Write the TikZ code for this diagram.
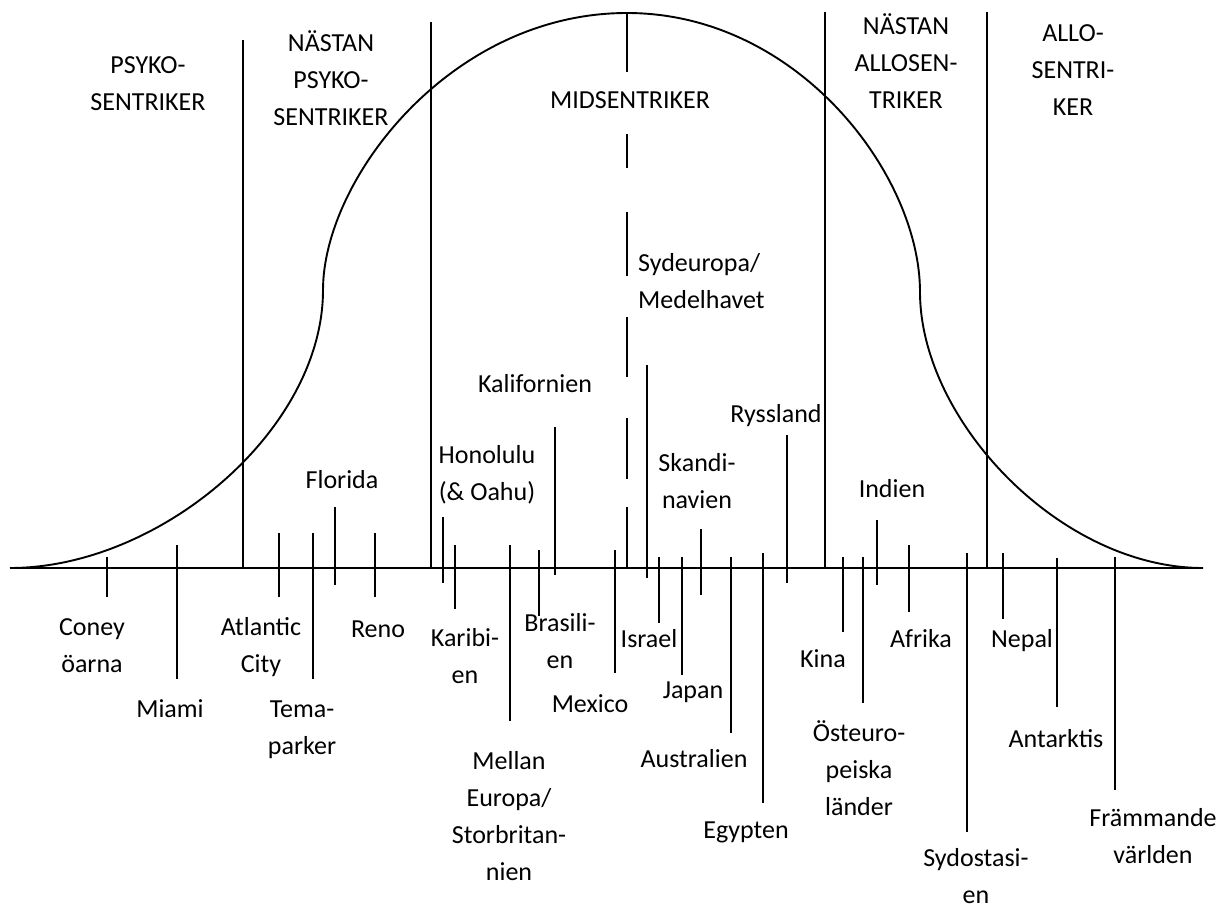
\documentclass[tikz,border=0pt]{standalone}
\usepackage{fontspec}
\setmainfont{Carlito}
\begin{document}
\begin{tikzpicture}[x=1pt,y=-1pt,
  lbl/.style={anchor=base,align=center,inner sep=0pt,font=\fontsize{26}{37}\selectfont},
  tick/.style={line width=1.7pt},
  divider/.style={line width=1.7pt},
  curve/.style={line width=1.9pt},
  axis/.style={line width=2.7pt}]
\useasboundingbox (0,0) rectangle (1230,908);
% curve
\draw[curve] (10,568) .. controls (160,568) and (323,430) .. (323,290)
  .. controls (323,180) and (450,13) .. (627,13)
  .. controls (798,13) and (920,175) .. (920,292)
  .. controls (920,420) and (1060,568) .. (1203,568);
% axis
\coordinate (axL) at (10,568);
\coordinate (axR) at (1203,568);
\draw[axis] (axL) -- (axR);
% dividers
\draw[divider] (243,40) -- (243,568);
\draw[divider] (431,22) -- (431,568);
\draw[divider] (825,12) -- (825,568);
\draw[divider] (987,12) -- (987,568);
% dashed center
\foreach \a/\b in {13/72,134/168,212/276,317/377,418/479,507/568}
  \draw[divider] (627,\a) -- (627,\b);
% ticks
\foreach \x/\a/\b in {107/557/597, 177/545/679, 279/533/597, 313/533/679, 335/507/585,
  375/533/597, 443/517/583, 455/545/609, 510/545/721, 539/550/616, 555/427/575,
  615/550/673, 647/365/578, 659/557/623, 682/557/675, 701/529/595, 731/557/733,
  763/553/803, 787/435/583, 843/557/632, 863/557/703, 877/520/585, 909/545/612,
  967/553/832, 1003/553/619, 1057/558/707, 1115/557/790}
  \draw[tick] (\x,\a) -- (\x,\b);
% top labels (anchor = baseline of last line)
\node[lbl] (psy) at (148,110) {PSYKO-\\SENTRIKER};
\node[lbl] (npsy) at (331,125) {NÄSTAN\\PSYKO-\\SENTRIKER};
\node[lbl] (mid) at (630,108) {MIDSENTRIKER};
\node[lbl] (nallo) at (906,108) {NÄSTAN\\ALLOSEN-\\TRIKER};
\node[lbl] (allo) at (1073,115) {ALLO-\\SENTRI-\\KER};
% upper labels
\node[lbl] (kal) at (535,392) {Kalifornien};
\node[lbl,align=left,anchor=base west] (syd) at (638,308) {Sydeuropa/\\Medelhavet};
\node[lbl] (rys) at (776,422) {Ryssland};
\node[lbl] (hon) at (487,500) {Honolulu\\(\& Oahu)};
\node[lbl] (flo) at (342,488) {Florida};
\node[lbl] (ska) at (697,508) {Skandi-\\navien};
\node[lbl] (ind) at (892,497) {Indien};
% lower labels
\node[lbl] (con) at (92,672) {Coney\\öarna};
\node[lbl] (mia) at (170,717) {Miami};
\node[lbl] (atl) at (261,672) {Atlantic\\City};
\node[lbl] (tem) at (302,754) {Tema-\\parker};
\node[lbl] (ren) at (378,637) {Reno};
\node[lbl] (kar) at (465,683) {Karibi-\\en};
\node[lbl] (bra) at (560,668) {Brasili-\\en};
\node[lbl] (mex) at (590,712) {Mexico};
\node[lbl] (mel) at (509,880) {Mellan\\Europa/\\Storbritan-\\nien};
\node[lbl] (isr) at (649,647) {Israel};
\node[lbl] (jap) at (693,698) {Japan};
\node[lbl] (aus) at (694,767) {Australien};
\node[lbl] (egy) at (746,838) {Egypten};
\node[lbl] (kin) at (823,667) {Kina};
\node[lbl] (ost) at (859,815) {Östeuro-\\peiska\\länder};
\node[lbl] (afr) at (921,647) {Afrika};
\node[lbl] (sya) at (976,903) {Sydostasi-\\en};
\node[lbl] (nep) at (1022,647) {Nepal};
\node[lbl] (ant) at (1056,747) {Antarktis};
\node[lbl] (fra) at (1153,863) {Främmande\\världen};
\end{tikzpicture}
\end{document}
